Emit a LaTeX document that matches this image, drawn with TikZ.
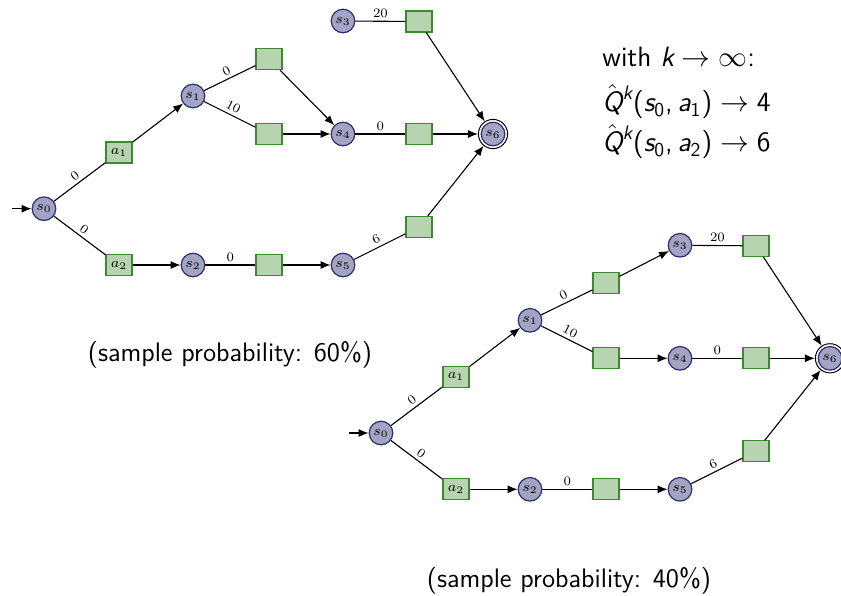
\documentclass[tikz,border=0pt]{standalone}
\usepackage{amsmath}
\usetikzlibrary{arrows.meta}
\definecolor{stfill}{HTML}{A3A3C4}
\definecolor{stdraw}{HTML}{2E2E72}
\definecolor{acfill}{HTML}{B7D4B0}
\definecolor{acdraw}{HTML}{3B8A2F}
\newcommand\mysfit[1]{\textsf{\itshape #1}}
\newcommand\myqhat{{\smash{\hat{\mysfit{Q}}}\vphantom{\mysfit{Q}}}}
\tikzset{
 st/.style={circle, draw=stdraw, fill=stfill, line width=0.6pt, minimum size=11.8pt, inner sep=0pt, font=\fontsize{7}{8}\selectfont},
 ac/.style={rectangle, draw=acdraw, fill=acfill, line width=0.6pt, minimum width=13pt, minimum height=10.5pt, inner sep=0pt, font=\fontsize{7}{8}\selectfont},
 acc/.style={circle, draw=black, line width=0.5pt, minimum size=14.6pt, inner sep=0pt},
 ln/.style={line width=0.55pt},
 arr/.style={line width=0.55pt, -{Latex[length=5pt,width=4pt]}},
 lab/.style={midway, above, sloped, font=\fontsize{6.5}{7}\selectfont, inner sep=1.5pt},
 txt/.style={font=\fontsize{13.4}{15}\selectfont\sffamily, inner sep=0pt},
 rtxt/.style={font=\fontsize{14}{16}\selectfont\sffamily, inner sep=0pt, anchor=base west},
}
\newcommand\mdpgraph[2]{%
 \node[st] (#1s0) at (44,208.7) {$s_0$};
 \node[ac] (#1a1) at (119,152.5) {$a_1$};
 \node[ac] (#1a2) at (119,265) {$a_2$};
 \node[st] (#1s1) at (193,96) {$s_1$};
 \node[st] (#1s2) at (193,265) {$s_2$};
 \node[ac] (#1b1) at (269,59) {};
 \node[ac] (#1b2) at (269,134) {};
 \node[ac] (#1b5) at (269,265) {};
 \node[st] (#1s3) at (343,21) {$s_3$};
 \node[st] (#1s4) at (343,134) {$s_4$};
 \node[st] (#1s5) at (343,265) {$s_5$};
 \node[ac] (#1b3) at (419,21.5) {};
 \node[ac] (#1b4) at (419,134) {};
 \node[ac] (#1b6) at (419,227) {};
 \node[acc] (#1s6) at (493,134) {};
 \node[st] (#1s6i) at (#1s6) {$s_6$};
 \coordinate (#1in) at (12,208.7);
 \draw[arr] (#1in) -- (#1s0);
 \draw[ln] (#1s0) -- node[lab] {0} (#1a1);
 \draw[ln] (#1s0) -- node[lab] {0} (#1a2);
 \draw[arr] (#1a1) -- (#1s1);
 \draw[arr] (#1a2) -- (#1s2);
 \draw[ln] (#1s1) -- node[lab] {0} (#1b1);
 \draw[ln] (#1s1) -- node[lab] {10} (#1b2);
 \draw[arr] (#1b1) -- (#1#2);
 \draw[arr] (#1b2) -- (#1s4);
 \draw[ln] (#1s3) -- node[lab] {20} (#1b3);
 \draw[arr] (#1b3) -- (#1s6);
 \draw[ln] (#1s4) -- node[lab] {0} (#1b4);
 \draw[arr] (#1b4) -- (#1s6);
 \draw[ln] (#1s2) -- node[lab] {0} (#1b5);
 \draw[arr] (#1b5) -- (#1s5);
 \draw[ln] (#1s5) -- node[lab] {6} (#1b6);
 \draw[arr] (#1b6) -- (#1s6);
}
\begin{document}
\begin{tikzpicture}[x=0.5pt, y=-0.5pt]
\useasboundingbox (0,0) rectangle (841,595);
\mdpgraph{t}{s4}
\begin{scope}[shift={(337,224.3)}]
\mdpgraph{b}{s3}
\end{scope}
\node[rtxt] (w1) at (602,66) {with $\mysfit{k} \rightarrow \infty$:};
\node[rtxt] (w2) at (602,111.7) {$\myqhat^{\mysfit{k}}\textsf{(}\mysfit{s}_{\textsf{0}}\textsf{,}\,\mysfit{a}_{\textsf{1}}\textsf{)} \rightarrow \textsf{4}$};
\node[rtxt] (w3) at (602,151.7) {$\myqhat^{\mysfit{k}}\textsf{(}\mysfit{s}_{\textsf{0}}\textsf{,}\,\mysfit{a}_{\textsf{2}}\textsf{)} \rightarrow \textsf{6}$};
\node[txt, anchor=base] (p1) at (230,361) {(sample probability: 60\%)};
\node[txt, anchor=base] (p2) at (569,587) {(sample probability: 40\%)};
\end{tikzpicture}
\end{document}
